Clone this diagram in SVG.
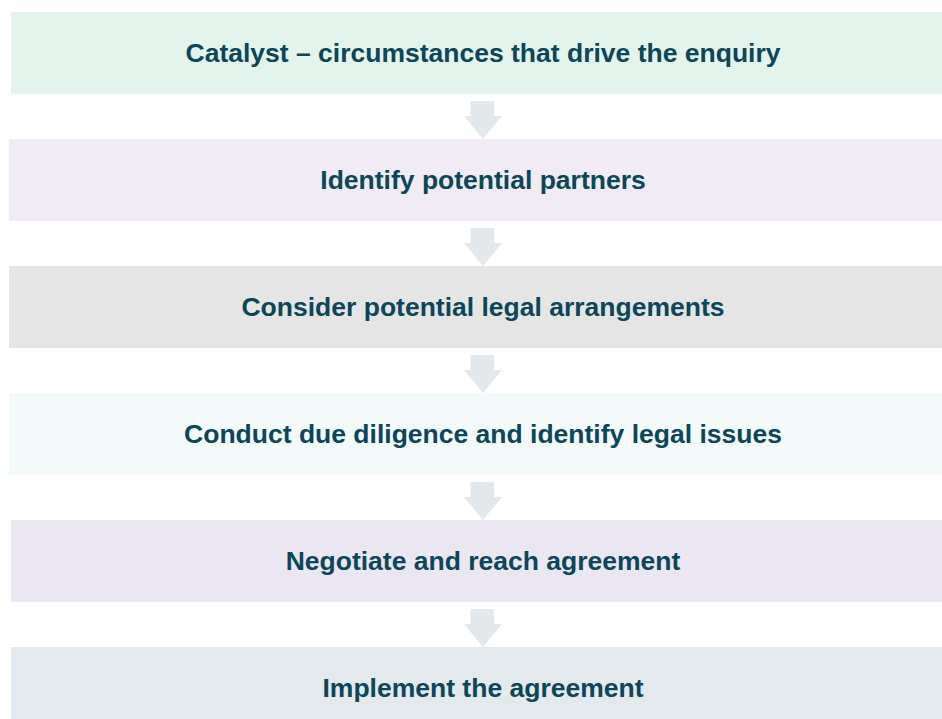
<svg xmlns="http://www.w3.org/2000/svg" width="942" height="719" viewBox="0 0 942 719">
<defs>
<style>
.lbl{font-family:"Liberation Sans",Arial,sans-serif;font-weight:bold;font-size:26.5px;fill:#0b4659;text-anchor:middle}
.arr{fill:#e2e8eb}
</style>
<path id="arrow" d="M470.5,0 H494 V15 H502 L483,38 L464,15 H470.5 Z"/>
</defs>
<rect width="942" height="719" fill="#ffffff"/>
<g id="n1"><rect x="11" y="12" width="931" height="82" fill="#e3f4ec"/><text class="lbl" x="483" y="62">Catalyst – circumstances that drive the enquiry</text></g>
<g id="n2"><rect x="9" y="139" width="933" height="82" fill="#f0ebf4"/><text class="lbl" x="483" y="189">Identify potential partners</text></g>
<g id="n3"><rect x="9" y="266" width="933" height="82" fill="#e5e5e5"/><text class="lbl" x="483" y="316">Consider potential legal arrangements</text></g>
<g id="n4"><rect x="9" y="393" width="933" height="82" fill="#f4f9fa"/><text class="lbl" x="483" y="443">Conduct due diligence and identify legal issues</text></g>
<g id="n5"><rect x="11" y="520" width="931" height="82" fill="#ebe7f2"/><text class="lbl" x="483" y="570">Negotiate and reach agreement</text></g>
<g id="n6"><rect x="11" y="647" width="931" height="82" fill="#e3e9ec"/><text class="lbl" x="483" y="697">Implement the agreement</text></g>
<g id="connectors" class="arr">
<use href="#arrow" y="101"/>
<use href="#arrow" y="228"/>
<use href="#arrow" y="355"/>
<use href="#arrow" y="482"/>
<use href="#arrow" y="609"/>
</g>
</svg>
